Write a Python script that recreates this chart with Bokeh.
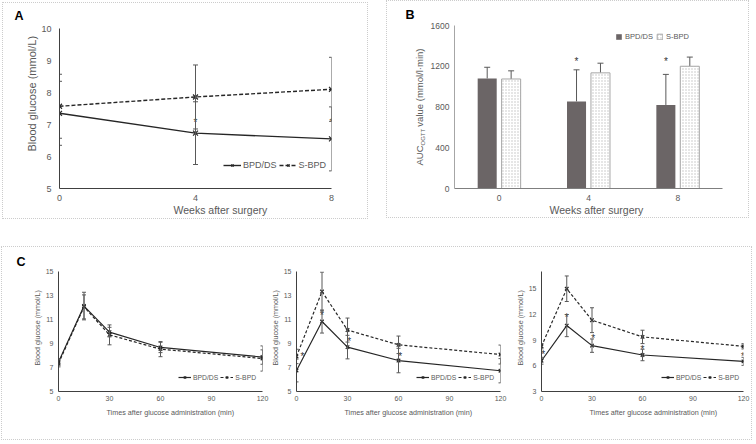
import math

from bokeh.plotting import figure
from bokeh.layouts import row, column
from bokeh.models import (ColumnDataSource, Whisker, TeeHead, Legend, LegendItem,
                          FixedTicker, Spacer, FactorRange, Title, LinearAxis)
from bokeh.transform import dodge
from bokeh.core.properties import value
from bokeh.embed import file_html
from bokeh.resources import INLINE

FONT = "Liberation Sans"
INK = "#262626"
TXT = "#595959"
ERR = "#595959"
DARK_BAR = "#6b6566"

# ---- Panel A: fasting blood glucose after surgery ----
weeks = [0, 4, 8]
a_bpd_mean = [7.35, 6.73, 6.55]
a_bpd_sd = [1.00, 0.98, 1.00]
a_sbpd_mean = [7.57, 7.86, 8.10]
a_sbpd_sd = [1.00, 1.00, 1.00]
a_star_weeks = [4, 8]
a_star_level = [7.13, 7.13]

# ---- Panel B: AUC of the OGTT ----
week_labels = ["0", "4", "8"]
b_bpd_auc = [1080, 855, 820]
b_bpd_sd = [110, 310, 300]
b_sbpd_auc = [1075, 1135, 1200]
b_sbpd_sd = [80, 95, 90]
b_star_weeks = ["4", "8"]
b_star_level = [1263, 1263]

# ---- Panel C: OGTT curves at 0, 4 and 8 weeks ----
minutes = [0, 15, 30, 60, 120]
c1_bpd = [7.45, 12.12, 9.95, 8.67, 7.87]
c1_bpd_sd = [0.30, 1.15, 0.40, 0.43, 0.60]
c1_sbpd = [7.35, 12.05, 9.72, 8.53, 7.75]
c1_sbpd_sd = [0.30, 1.00, 0.83, 0.63, 1.05]

c2_bpd = [6.75, 10.83, 8.70, 7.58, 6.73]
c2_bpd_sd = [0.95, 0.96, 0.98, 1.02, 1.01]
c2_sbpd = [7.92, 13.33, 10.12, 8.89, 8.08]
c2_sbpd_sd = [0.60, 1.62, 1.00, 0.73, 0.79]
c2_star_min = [3.5, 15, 31, 61, 121]
c2_star_level = [8.06, 11.47, 9.33, 8.06, 7.30]

c3_bpd = [6.59, 10.69, 8.35, 7.26, 6.52]
c3_bpd_sd = [0.40, 1.29, 0.78, 0.67, 0.47]
c3_sbpd = [8.28, 14.99, 11.32, 9.37, 8.27]
c3_sbpd_sd = [0.30, 1.49, 1.45, 0.78, 0.31]
c3_star_min = [1, 15, 30.7, 60, 119.6]
c3_star_level = [7.57, 11.86, 9.45, 8.16, 7.37]

BOX = {"border": "1px dotted #cccccc"}


def style_axes(p, tick_size, axis_color, standoff_x, standoff_y):
    for ax, so in ((p.xaxis[0], standoff_x), (p.yaxis[0], standoff_y)):
        ax.major_tick_line_color = None
        ax.minor_tick_line_color = None
        ax.major_tick_out = 0
        ax.major_tick_in = 0
        ax.minor_tick_out = 0
        ax.axis_line_color = axis_color
        ax.major_label_text_font = FONT
        ax.major_label_text_font_size = tick_size
        ax.major_label_text_color = TXT
        ax.major_label_standoff = so
    p.xgrid.visible = False
    p.ygrid.visible = False
    p.outline_line_color = None


def side_title(p, place, text, size, offset, standoff, valign="middle"):
    p.add_layout(Title(text=text, align="left", offset=offset, standoff=standoff,
                       vertical_align=valign, text_font=FONT, text_font_size=size,
                       text_font_style="normal", text_color=TXT), place)


def panel_letter(p, letter, offset, standoff):
    p.title.text = letter
    p.title.align = "left"
    p.title.offset = offset
    p.title.standoff = standoff
    p.title.vertical_align = "top"
    p.title.text_font = FONT
    p.title.text_font_size = "12.5px"
    p.title.text_font_style = "bold"
    p.title.text_color = "#000000"


def error_bars(p, x, mean, sd, head=5, color=ERR):
    src = ColumnDataSource(dict(
        x=x,
        upper=[m + s for m, s in zip(mean, sd)],
        lower=[m - s for m, s in zip(mean, sd)],
    ))
    p.add_layout(Whisker(base="x", upper="upper", lower="lower", source=src,
                         line_color=color, line_width=1, level="glyph",
                         upper_head=TeeHead(size=head, line_color=color, line_width=1),
                         lower_head=TeeHead(size=head, line_color=color, line_width=1)))


def line_series(p, x, y, dash, lw, msize):
    ln = p.line(x, y, line_color=INK, line_width=lw, line_dash=dash)
    mk = p.scatter(x, y, marker="x", size=msize, line_color=INK, line_width=1.2)
    return ln, mk


def line_legend(p, items, loc, font_size, glyph_w):
    p.add_layout(Legend(items=[LegendItem(label=lab, renderers=r) for lab, r in items],
                        orientation="horizontal", location=loc,
                        background_fill_alpha=0, border_line_color=None,
                        label_text_font=FONT, label_text_font_size=font_size,
                        label_text_color=TXT, glyph_width=glyph_w, glyph_height=8,
                        label_standoff=2, spacing=2, padding=0, margin=0,
                        label_height=8))


def stars(p, x, y, size="10px"):
    p.text(x=x, y=y, text=["*"] * len(x), text_font=value(FONT), text_font_size=size,
           text_color="#333333", text_align="center", text_baseline="middle",
           y_offset=2)


# ================= Panel A =================
pA = figure(width=366, height=217, x_range=(0, 8), y_range=(5, 10),
            output_backend="svg", toolbar_location=None,
            min_border_left=56, min_border_right=38, min_border_top=25,
            min_border_bottom=32, styles=BOX)
style_axes(pA, "9px", "#404040", 6, 8)
pA.xaxis.ticker = FixedTicker(ticks=weeks)
pA.yaxis.ticker = FixedTicker(ticks=[5, 6, 7, 8, 9, 10])

error_bars(pA, weeks, a_sbpd_mean, a_sbpd_sd, head=5)
error_bars(pA, weeks, a_bpd_mean, a_bpd_sd, head=5)
a1 = line_series(pA, weeks, a_bpd_mean, "solid", 1.4, 7)
a2 = line_series(pA, weeks, a_sbpd_mean, "4 2", 1.4, 7)
stars(pA, a_star_weeks, a_star_level)
line_legend(pA, [("BPD/DS", list(a1)), ("S-BPD", list(a2))], (164, 18), "9px", 18)

panel_letter(pA, "A", -45, 7)
side_title(pA, "below", "Weeks after surgery", "10.5px", 114, 0, valign="top")
side_title(pA, "left", "Blood glucose (mmol/L)", "11px", 37, 0)

# ================= Panel B =================
pB = figure(width=363, height=218, x_range=FactorRange(*week_labels), y_range=(0, 1600),
            output_backend="svg", toolbar_location=None,
            min_border_left=67, min_border_right=28, min_border_top=24,
            min_border_bottom=31, styles=BOX)
style_axes(pB, "8.5px", "#a6a6a6", 6, 5)
pB.yaxis.ticker = FixedTicker(ticks=[0, 400, 800, 1200, 1600])
pB.xaxis.axis_line_color = "#7f7f7f"

srcB = ColumnDataSource(dict(
    week=week_labels,
    bpd=b_bpd_auc, bpd_hi=[m + s for m, s in zip(b_bpd_auc, b_bpd_sd)],
    sbpd=b_sbpd_auc, sbpd_hi=[m + s for m, s in zip(b_sbpd_auc, b_sbpd_sd)],
))
OFF = 0.134
bar1 = pB.vbar(x=dodge("week", -OFF, range=pB.x_range), top="bpd", width=0.213,
               source=srcB, fill_color=DARK_BAR, line_color=None)
bar2 = pB.vbar(x=dodge("week", OFF, range=pB.x_range), top="sbpd", width=0.213,
               source=srcB, fill_color="white", line_color="#a6a6a6", line_width=1,
               hatch_pattern="dot", hatch_color="#bfbfbf", hatch_scale=3, hatch_weight=1)
for xcol, lo, hi in ((dodge("week", -OFF, range=pB.x_range), "bpd", "bpd_hi"),
                     (dodge("week", OFF, range=pB.x_range), "sbpd", "sbpd_hi")):
    pB.add_layout(Whisker(base=xcol, upper=hi, lower=lo, source=srcB,
                          line_color=ERR, line_width=1, level="underlay",
                          upper_head=TeeHead(size=6, line_color=ERR, line_width=1),
                          lower_head=None))
pB.text(x=dodge("week", -OFF, range=pB.x_range), y="lvl", text="s",
        source=ColumnDataSource(dict(week=b_star_weeks, lvl=b_star_level, s=["*", "*"])),
        text_font=value(FONT), text_font_size="10px", text_color="#333333",
        text_align="center", text_baseline="middle", y_offset=2)

pB.add_layout(Legend(items=[LegendItem(label="BPD/DS", renderers=[bar1]),
                            LegendItem(label="S-BPD", renderers=[bar2])],
                     orientation="horizontal", location=(161, 147),
                     background_fill_alpha=0, border_line_color=None,
                     label_text_font=FONT, label_text_font_size="7.5px",
                     label_text_color=TXT, glyph_width=7, glyph_height=7,
                     label_standoff=3, spacing=3, padding=0, margin=0, label_height=8))

panel_letter(pB, "B", -49, 4)
side_title(pB, "below", "Weeks after surgery", "10.5px", 95, 0, valign="top")


# y title "AUC_OGTT value (mmol/l·min)": the subscript and the main words sit on
# two label-only axes stacked to the left of the value axis; each label hangs
# downwards from its tick
def label_axis(p, ticks, texts, size, standoff):
    ax = LinearAxis(ticker=FixedTicker(ticks=ticks),
                    major_label_overrides=dict(zip(ticks, texts)),
                    axis_line_color=None, major_tick_line_color=None,
                    minor_tick_line_color=None, major_tick_out=0, major_tick_in=0,
                    minor_tick_out=0, major_label_orientation=math.pi / 2,
                    major_label_standoff=standoff, major_label_text_font=FONT,
                    major_label_text_font_size=size, major_label_text_color=TXT)
    p.add_layout(ax, "left")


label_axis(pB, [586], ["OGTT"], "6px", 4)
label_axis(pB, [422, 1374], ["AUC", "value (mmol/l·min)"], "9.5px", -5)


# ================= Panel C =================
def make_c(width, left, right, yr, yticks, bpd, bpd_sd, sbpd, sbpd_sd,
           star_x=None, star_y=None):
    p = figure(width=width, height=192, x_range=(0, 120), y_range=yr,
               output_backend="svg", toolbar_location=None,
               min_border_left=left, min_border_right=right, min_border_top=24,
               min_border_bottom=48)
    style_axes(p, "7px", "#404040", 4, 5)
    p.xaxis.ticker = FixedTicker(ticks=[0, 30, 60, 90, 120])
    p.yaxis.ticker = FixedTicker(ticks=yticks)
    error_bars(p, minutes, sbpd, sbpd_sd, head=4)
    error_bars(p, minutes, bpd, bpd_sd, head=4)
    r1 = line_series(p, minutes, bpd, "solid", 1.2, 5)
    r2 = line_series(p, minutes, sbpd, "3 2", 1.2, 5)
    if star_x is not None:
        stars(p, star_x, star_y)
    line_legend(p, [("BPD/DS", list(r1)), ("S-BPD", list(r2))], (120, 10), "6.8px", 13)
    side_title(p, "below", "Times after glucose administration (min)", "7.2px", 48, 6)
    side_title(p, "left", "Blood glucose (mmol/L)", "7.2px", 26, 0)
    return p


pC1 = make_c(267, 56, 7, (5, 15), [5, 7, 9, 11, 13, 15], c1_bpd, c1_bpd_sd, c1_sbpd, c1_sbpd_sd)
panel_letter(pC1, "C", -42, 2)
pC2 = make_c(245, 27, 14, (5, 15), [5, 7, 9, 11, 13, 15], c2_bpd, c2_bpd_sd, c2_sbpd,
             c2_sbpd_sd, c2_star_min, c2_star_level)
pC3 = make_c(237, 24, 8, (3, 17), [3, 6, 9, 12, 15], c3_bpd, c3_bpd_sd, c3_sbpd,
             c3_sbpd_sd, c3_star_min, c3_star_level)

c_box = row(pC1, pC2, pC3, styles=BOX)

page = column(
    row(Spacer(width=2), column(Spacer(height=2), pA), Spacer(width=18), pB),
    Spacer(height=27),
    row(Spacer(width=1), c_box),
)

open("out.html", "w").write(file_html(page, INLINE))
